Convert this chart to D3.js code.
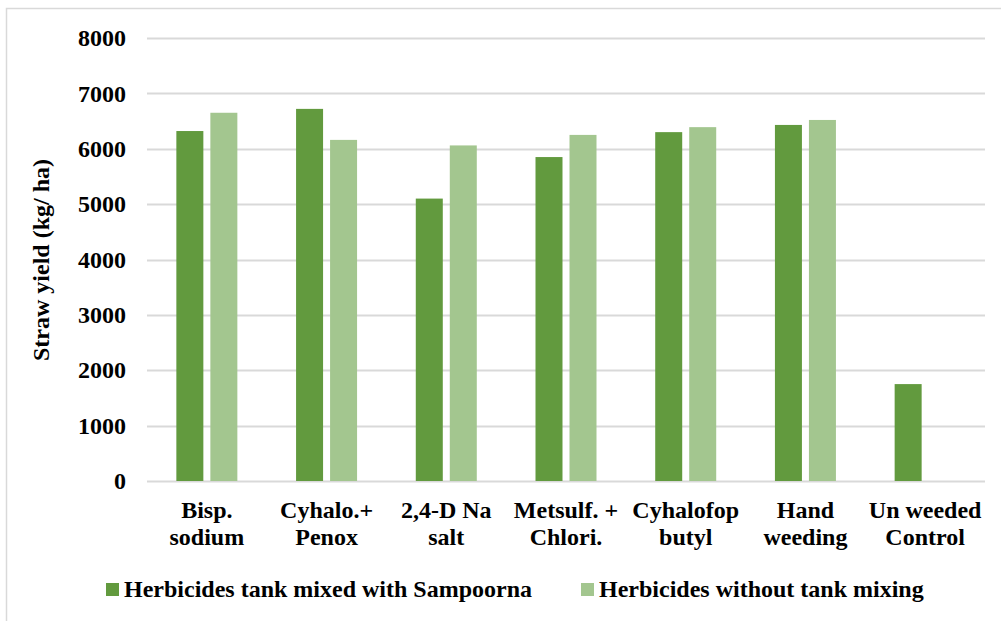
<!DOCTYPE html>
<html>
<head>
<meta charset="utf-8">
<script src="https://cdn.jsdelivr.net/npm/d3@7"></script>
<style>
  body { margin: 0; background: #fff; }
  svg { display: block; }
  text { font-family: "Liberation Serif", "Times New Roman", serif; font-weight: bold; fill: #000; }
</style>
</head>
<body>
<div id="chart"></div>
<script>
// treatments on x axis (two-line labels)
const categories = [
  ["Bisp.", "sodium"],
  ["Cyhalo.+", "Penox"],
  ["2,4-D Na", "salt"],
  ["Metsulf. +", "Chlori."],
  ["Cyhalofop", "butyl"],
  ["Hand", "weeding"],
  ["Un weeded", "Control"]
];
const seriesNames = ["Herbicides tank mixed with Sampoorna", "Herbicides without tank mixing"];
const tankMixed = [6320, 6720, 5100, 5850, 6300, 6430, 1750];
const withoutMix = [6650, 6160, 6060, 6250, 6390, 6520, null];
const yTicks = [0, 1000, 2000, 3000, 4000, 5000, 6000, 7000, 8000];
const colors = ["#629A3E", "#A3C68F"];

const width = 1001, height = 621;
const margin = { left: 147, right: 16, top: 38, bottom: 140 };

const svg = d3.select("#chart").append("svg")
  .attr("width", width)
  .attr("height", height);

// outer chart frame (cropped at right/bottom like the picture)
svg.append("rect")
  .attr("x", 6.5).attr("y", 8.5)
  .attr("width", 1010).attr("height", 640)
  .attr("fill", "none")
  .attr("stroke", "#d9d9d9")
  .attr("stroke-width", 1.5);

const x = d3.scaleBand()
  .domain(d3.range(categories.length))
  .range([margin.left, width - margin.right]);

const y = d3.scaleLinear()
  .domain([0, 8000])
  .range([height - margin.bottom, margin.top]);

// gridlines
svg.append("g")
  .selectAll("line")
  .data(yTicks)
  .join("line")
  .attr("x1", margin.left)
  .attr("x2", width - margin.right)
  .attr("y1", d => Math.round(y(d)) + 0.5)
  .attr("y2", d => Math.round(y(d)) + 0.5)
  .attr("stroke", "#d9d9d9")
  .attr("stroke-width", 2);

// y axis labels
const yAxis = svg.append("g")
  .attr("transform", `translate(${margin.left},0)`)
  .call(d3.axisLeft(y).tickValues(yTicks).tickSize(0).tickPadding(21).tickFormat(d3.format("d")));
yAxis.select(".domain").remove();
yAxis.selectAll("text")
  .attr("font-size", 24)
  .attr("font-family", "Liberation Serif")
  .attr("font-weight", "bold");

// bars: two 27px bars with 7px gap, centred in each band
const half = 30.5;
const inner = d3.scaleBand()
  .domain([0, 1])
  .range([x.bandwidth() / 2 - half, x.bandwidth() / 2 + half])
  .paddingInner(0.206);

const barData = [];
categories.forEach((c, i) => {
  [tankMixed[i], withoutMix[i]].forEach((v, s) => {
    if (v != null) barData.push({ i, s, v });
  });
});

svg.append("g")
  .selectAll("rect")
  .data(barData)
  .join("rect")
  .attr("x", d => x(d.i) + inner(d.s))
  .attr("y", d => y(d.v))
  .attr("width", inner.bandwidth())
  .attr("height", d => y(0) - y(d.v))
  .attr("fill", d => colors[d.s]);

// category labels
const xLab = svg.append("g")
  .selectAll("text")
  .data(categories)
  .join("text")
  .attr("text-anchor", "middle")
  .attr("font-size", 24)
  .attr("x", (d, i) => x(i) + x.bandwidth() / 2);
xLab.append("tspan")
  .attr("x", (d, i) => x(i) + x.bandwidth() / 2)
  .attr("y", 518)
  .text(d => d[0]);
xLab.append("tspan")
  .attr("x", (d, i) => x(i) + x.bandwidth() / 2)
  .attr("y", 545)
  .text(d => d[1]);

// y axis title
svg.append("text")
  .attr("transform", "translate(49,260) rotate(-90)")
  .attr("text-anchor", "middle")
  .attr("font-size", 24)
  .text("Straw yield (kg/ ha)");

// legend
const legendX = [106, 581];
const legend = svg.append("g")
  .selectAll("g")
  .data(seriesNames)
  .join("g")
  .attr("transform", (d, i) => `translate(${legendX[i]},583)`);
legend.append("rect")
  .attr("width", 13).attr("height", 13)
  .attr("fill", (d, i) => colors[i]);
legend.append("text")
  .attr("x", 18).attr("y", 14)
  .attr("font-size", 24)
  .text(d => d);
</script>
</body>
</html>
